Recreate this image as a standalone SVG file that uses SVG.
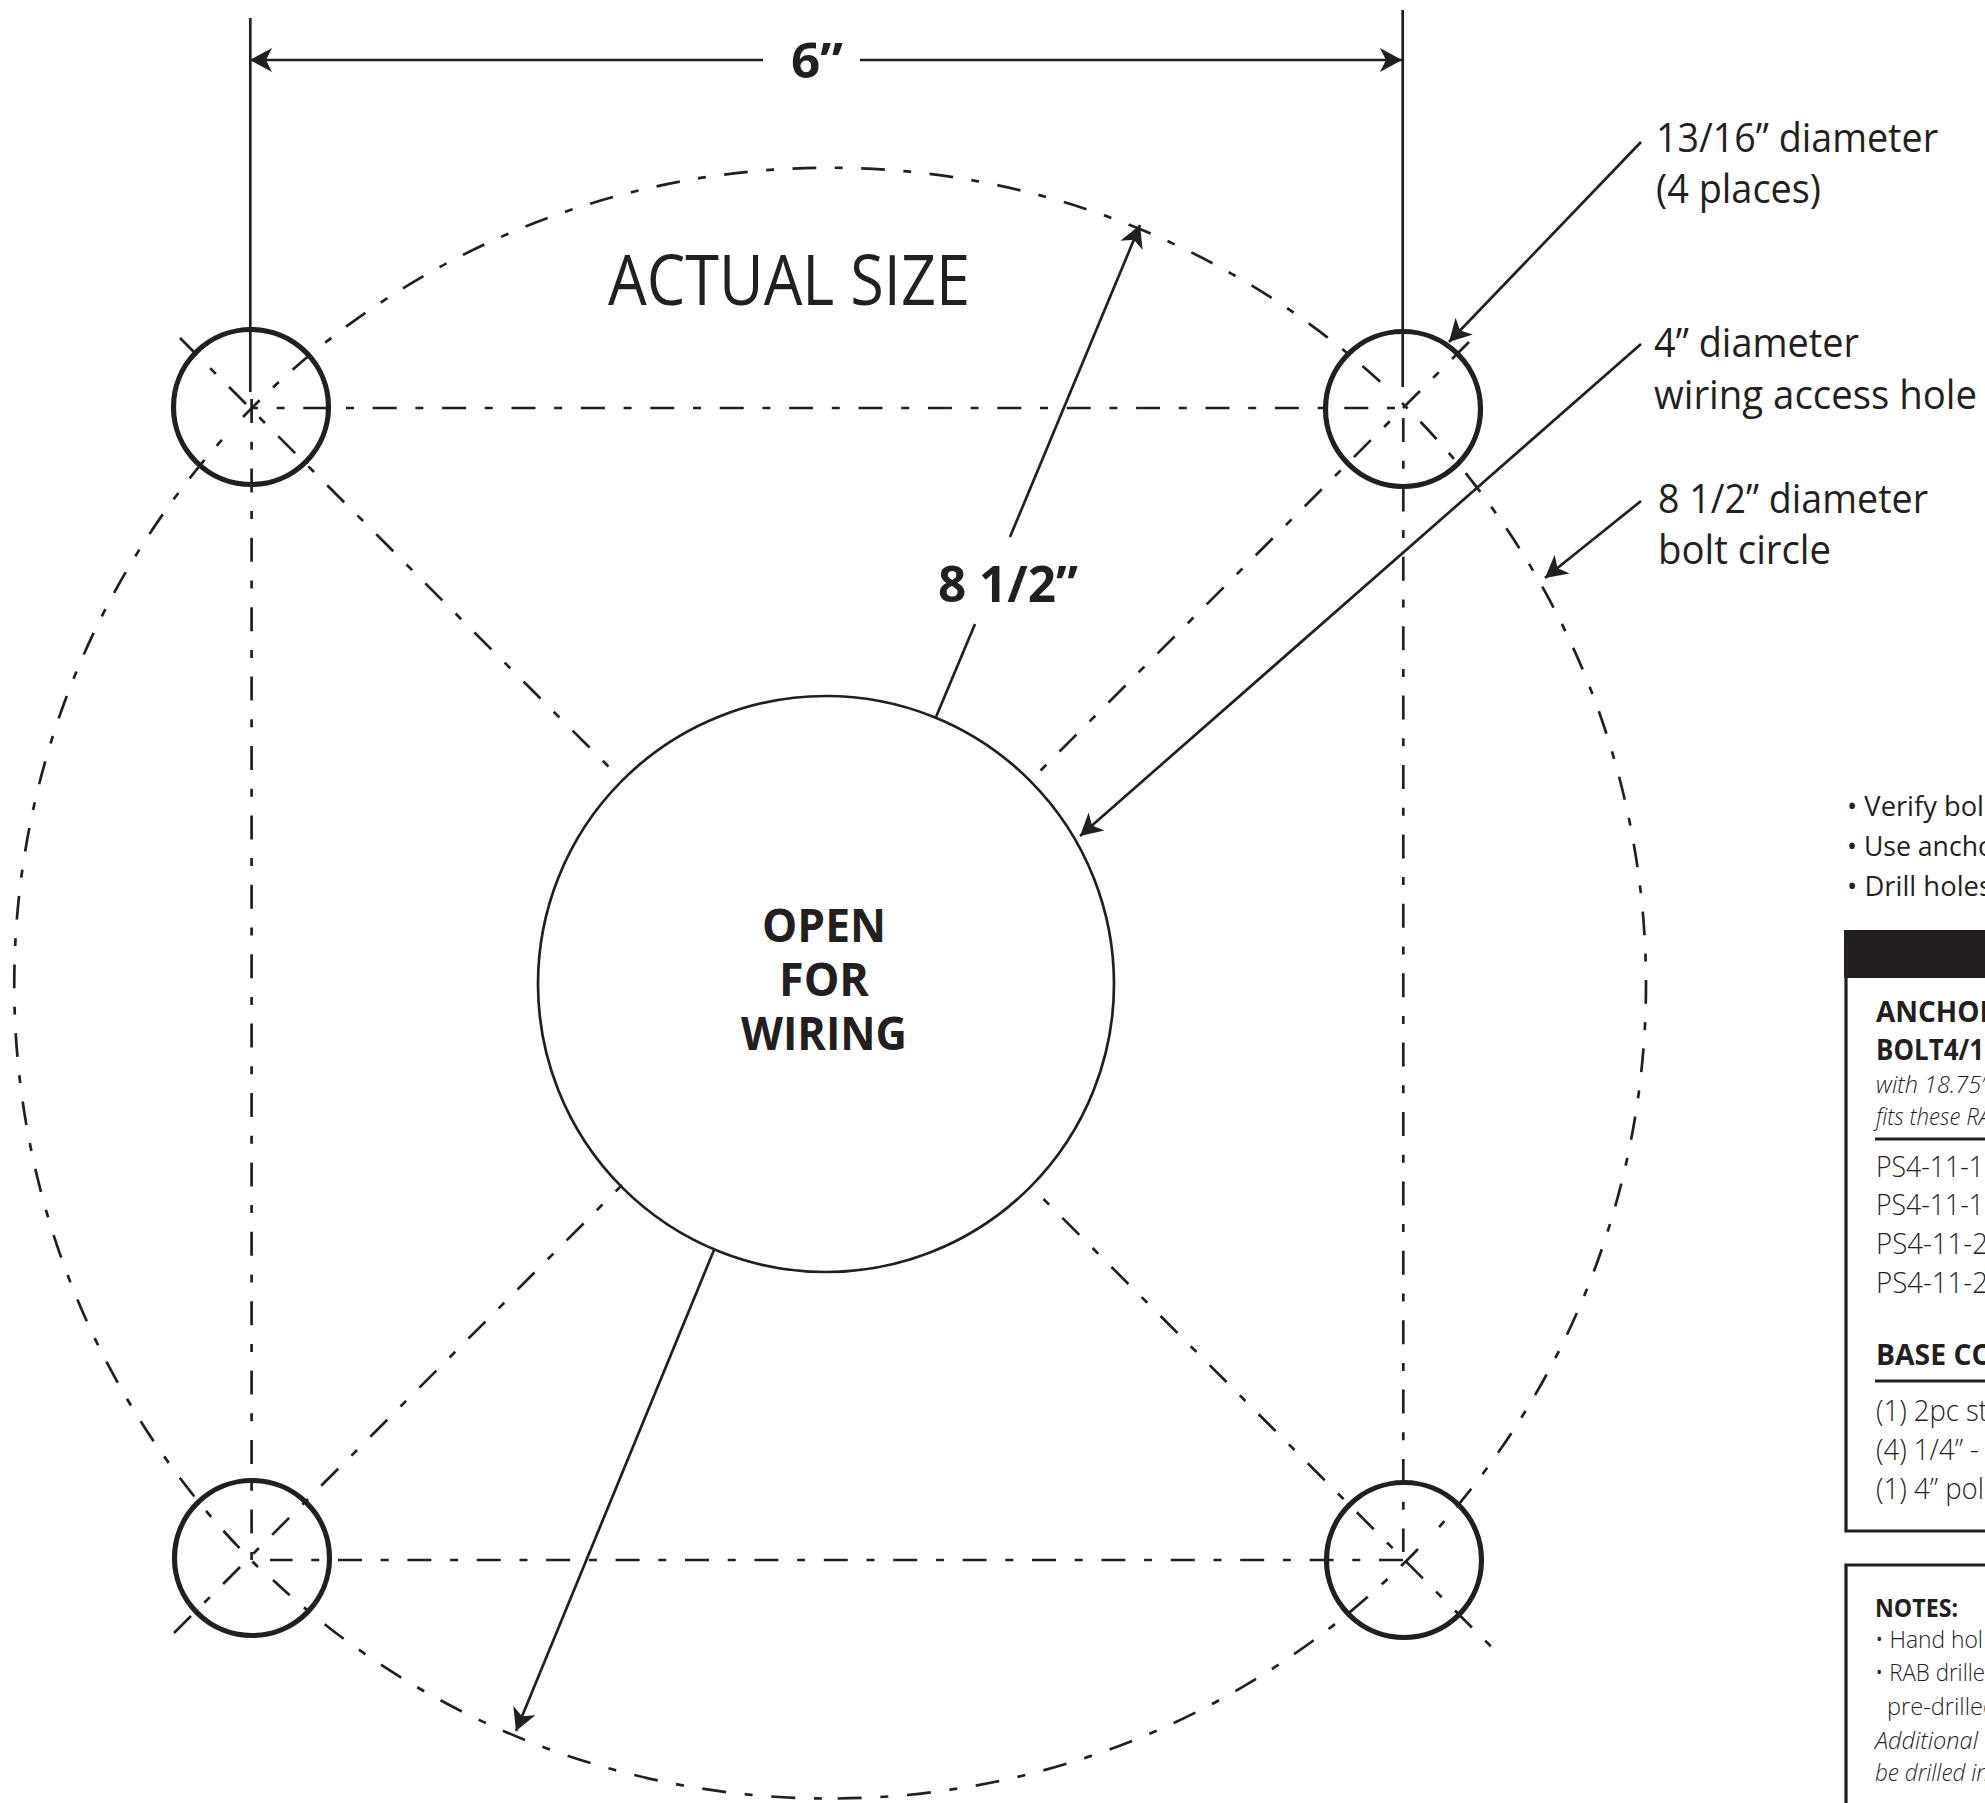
<svg xmlns="http://www.w3.org/2000/svg" width="1985" height="1803" viewBox="0 0 1985 1803">
<style>
text{font-family:"Open Sans","Noto Sans","Liberation Sans",sans-serif;fill:#231f20}
.b{font-weight:700}
.l{font-weight:300}
.i{font-weight:300;font-style:italic}
.dd{fill:none;stroke:#231f20;stroke-width:2.7;stroke-dasharray:24 18.7 8 18.7}
.ds{fill:none;stroke:#231f20;stroke-width:2.7;stroke-dasharray:8 18.7 24 18.7}
.sl{fill:none;stroke:#231f20;stroke-width:2.7}
.hole{fill:none;stroke:#231f20;stroke-width:5.2}
.box{fill:none;stroke:#231f20;stroke-width:3.2}
</style>
<defs>
<marker id="ah" markerUnits="userSpaceOnUse" markerWidth="26" markerHeight="28" refX="22" refY="14" orient="auto">
<path d="M22,14 L0,2 L6,14 L0,26 Z" fill="#231f20"/>
</marker>
</defs>
<rect width="1985" height="1803" fill="#fff"/>
<g id="connectors">
<path class="dd" d="M243,417 A815,815 0 0 1 1388,389" pathLength="1284"/>
<path class="ds" d="M1402,403 A815,815 0 0 1 1432,1535" pathLength="1268"/>
<path class="dd" d="M1418,1549 A815,815 0 0 1 827.5,1798.5"/>
<path class="dd" d="M827.5,1798.5 A815,815 0 0 1 273,1580" stroke-dashoffset="37.1"/>
<path class="ds" d="M258,1567 A818,818 0 0 1 229,432" pathLength="1268"/>
<path class="ds" d="M1395,408 H250"/>
<path class="dd" d="M1403,1560 H270"/>
<path class="dd" d="M251.6,399 V1560"/>
<path class="dd" d="M1403.3,418 V1552"/>
<path class="dd" d="M180,338 L613,771"/>
<path class="ds" d="M1043.5,1199 L1494,1649.5"/>
<path class="dd" d="M1469,342 L1038,773"/>
<path class="dd" d="M174,1633 L622,1185"/>
<path class="sl" d="M250.3,18 V392"/>
<path class="sl" d="M1402.7,10 V387"/>
<path class="sl" d="M763,60 H250" marker-end="url(#ah)"/>
<path class="sl" d="M860,60 H1402" marker-end="url(#ah)"/>
<path class="sl" d="M936,717 L975,624"/>
<path class="sl" d="M1010,537 L1140,225" marker-end="url(#ah)"/>
<path class="sl" d="M714,1250 L516,1731" marker-end="url(#ah)"/>
<path class="sl" d="M1641,142 L1449,342" marker-end="url(#ah)"/>
<path class="sl" d="M1641,344 L1080,836" marker-end="url(#ah)"/>
<path class="sl" d="M1641,501 L1545,578" marker-end="url(#ah)"/>
</g>
<g id="hole-top-left"><circle class="hole" cx="251" cy="407" r="77.5"/></g>
<g id="hole-top-right"><circle class="hole" cx="1403" cy="409" r="77.5"/></g>
<g id="hole-bottom-right"><circle class="hole" cx="1404" cy="1560" r="77.5"/></g>
<g id="hole-bottom-left"><circle class="hole" cx="252" cy="1558" r="77.5"/></g>
<g id="wiring-hole">
<circle cx="826" cy="984" r="288" fill="none" stroke="#231f20" stroke-width="2.7"/>
<text class="b" x="824" y="942" font-size="46" text-anchor="middle" textLength="124" lengthAdjust="spacingAndGlyphs">OPEN</text>
<text class="b" x="824" y="996" font-size="46" text-anchor="middle" textLength="90" lengthAdjust="spacingAndGlyphs">FOR</text>
<text class="b" x="824" y="1050" font-size="46" text-anchor="middle" textLength="166" lengthAdjust="spacingAndGlyphs">WIRING</text>
</g>
<g id="labels">
<text class="b" x="791" y="78" font-size="49" textLength="52" lengthAdjust="spacingAndGlyphs">6”</text>
<text class="b" x="938" y="602" font-size="50" textLength="140" lengthAdjust="spacingAndGlyphs">8 1/2”</text>
<text x="608" y="305" font-size="70" textLength="362" lengthAdjust="spacingAndGlyphs">ACTUAL SIZE</text>
<text x="1656" y="152" font-size="40" textLength="282" lengthAdjust="spacingAndGlyphs">13/16” diameter</text>
<text x="1656" y="203" font-size="40" textLength="165" lengthAdjust="spacingAndGlyphs">(4 places)</text>
<text x="1654" y="357" font-size="40" textLength="205" lengthAdjust="spacingAndGlyphs">4” diameter</text>
<text x="1654" y="409" font-size="40" textLength="323" lengthAdjust="spacingAndGlyphs">wiring access hole</text>
<text x="1658" y="513" font-size="40" textLength="270" lengthAdjust="spacingAndGlyphs">8 1/2” diameter</text>
<text x="1658" y="564" font-size="40" textLength="173" lengthAdjust="spacingAndGlyphs">bolt circle</text>
</g>
<g id="instructions">
<text x="1847" y="816" font-size="28" textLength="137" lengthAdjust="spacingAndGlyphs">• Verify bol</text>
<text x="1847" y="856" font-size="28" textLength="147" lengthAdjust="spacingAndGlyphs">• Use ancho</text>
<text x="1847" y="896" font-size="28" textLength="145" lengthAdjust="spacingAndGlyphs">• Drill holes</text>
</g>
<g id="parts-box">
<rect x="1844" y="930" width="145" height="48" fill="#231f20"/>
<path class="box" d="M1990,1531 H1846 V978"/>
<text class="b" x="1876" y="1022" font-size="29" textLength="122" lengthAdjust="spacingAndGlyphs">ANCHOR</text>
<text class="b" x="1876" y="1060" font-size="29" textLength="108" lengthAdjust="spacingAndGlyphs">BOLT4/1</text>
<text class="i" x="1876" y="1093" font-size="24" textLength="112" lengthAdjust="spacingAndGlyphs">with 18.75”</text>
<text class="i" x="1876" y="1125" font-size="24" textLength="115" lengthAdjust="spacingAndGlyphs">fits these RA</text>
<path class="box" d="M1875,1139 H1990"/>
<text class="l" x="1876" y="1177" font-size="29" textLength="108" lengthAdjust="spacingAndGlyphs">PS4-11-1</text>
<text class="l" x="1876" y="1215" font-size="29" textLength="108" lengthAdjust="spacingAndGlyphs">PS4-11-1</text>
<text class="l" x="1876" y="1254" font-size="29" textLength="112" lengthAdjust="spacingAndGlyphs">PS4-11-2</text>
<text class="l" x="1876" y="1293" font-size="29" textLength="112" lengthAdjust="spacingAndGlyphs">PS4-11-2</text>
<text class="b" x="1876" y="1365" font-size="29" textLength="118" lengthAdjust="spacingAndGlyphs">BASE CO</text>
<path class="box" d="M1875,1381 H1990"/>
<text class="l" x="1876" y="1421" font-size="29" textLength="112" lengthAdjust="spacingAndGlyphs">(1) 2pc st</text>
<text class="l" x="1876" y="1460" font-size="29" textLength="103" lengthAdjust="spacingAndGlyphs">(4) 1/4” -</text>
<text class="l" x="1876" y="1499" font-size="29" textLength="108" lengthAdjust="spacingAndGlyphs">(1) 4” pol</text>
</g>
<g id="notes-box">
<path class="box" d="M1990,1565 H1846 V1810"/>
<text class="b" x="1875" y="1617" font-size="25" textLength="83" lengthAdjust="spacingAndGlyphs">NOTES:</text>
<text class="l" x="1875" y="1648" font-size="24" textLength="108" lengthAdjust="spacingAndGlyphs">• Hand hol</text>
<text class="l" x="1875" y="1681" font-size="24" textLength="110" lengthAdjust="spacingAndGlyphs">• RAB drille</text>
<text class="l" x="1887" y="1715" font-size="24" textLength="110" lengthAdjust="spacingAndGlyphs">pre-drilled</text>
<text class="i" x="1875" y="1749" font-size="24" textLength="103" lengthAdjust="spacingAndGlyphs">Additional</text>
<text class="i" x="1875" y="1781" font-size="24" textLength="114" lengthAdjust="spacingAndGlyphs">be drilled in</text>
</g>
</svg>
